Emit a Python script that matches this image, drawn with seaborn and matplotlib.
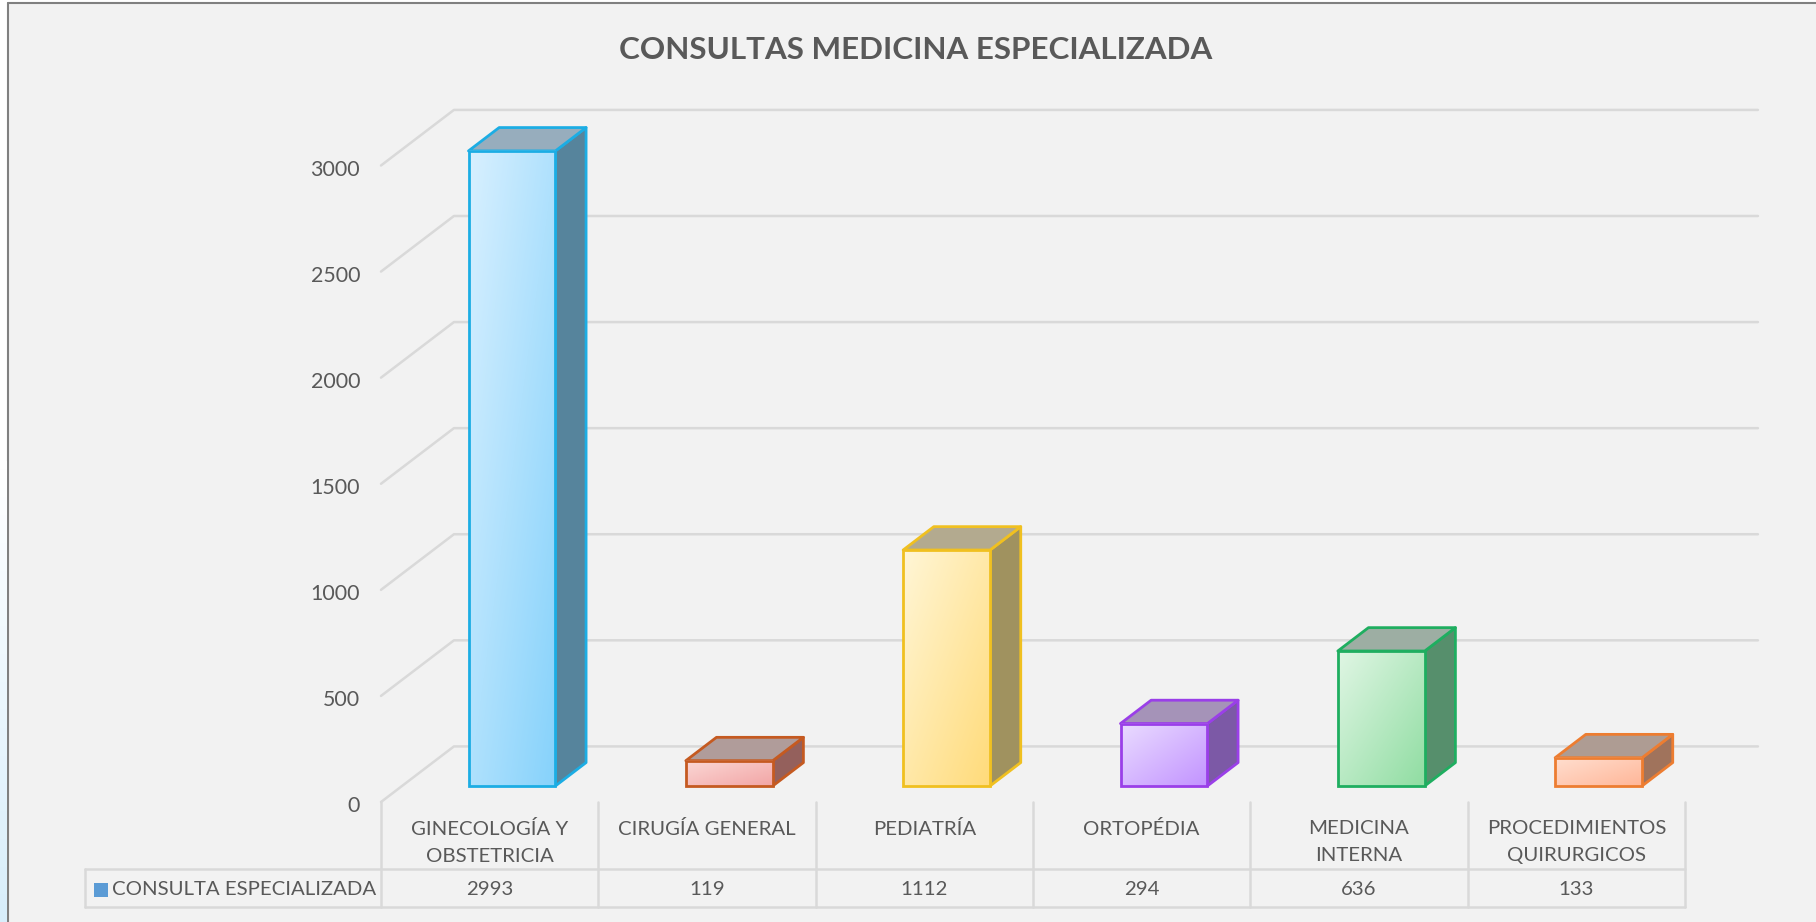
import numpy as np
import pandas as pd
import seaborn as sns
import matplotlib.pyplot as plt
from matplotlib.colors import LinearSegmentedColormap
from matplotlib.patches import Polygon, Rectangle
from matplotlib.transforms import Affine2D, ScaledTranslation

categories = ["GINECOLOGÍA Y\nOBSTETRICIA", "CIRUGÍA GENERAL", "PEDIATRÍA", "ORTOPÉDIA",
              "MEDICINA\nINTERNA", "PROCEDIMIENTOS\nQUIRURGICOS"]
values = [2993, 119, 1112, 294, 636, 133]
y_ticks = [0, 500, 1000, 1500, 2000, 2500, 3000]
series_name = "CONSULTA ESPECIALIZADA"
title = "CONSULTAS MEDICINA ESPECIALIZADA"

edge_colors = ["#1CADE4", "#C55A21", "#F0C020", "#9A3FE8", "#1FAE60", "#ED7D31"]
front_light = ["#D8F0FF", "#FBD8D6", "#FFF6D6", "#EADCFF", "#E0F6E4", "#FFDFD0"]
front_dark = ["#86D2FB", "#F2A5A5", "#FFDB7A", "#C293FF", "#90DDA2", "#FFB698"]
top_color = ["#97ADBD", "#B09C9A", "#B3AA8F", "#A593B8", "#9DAEA3", "#AE9C93"]
side_color = ["#56849C", "#94605C", "#A0925F", "#7C59A6", "#568F6C", "#A0735C"]

W, H = 1816, 922
BG = "#F2F2F2"
GRID = "#D9D9D9"
TEXT = "#595959"

sns.set_theme(style="white")
plt.rcParams["font.family"] = ["Lato", "DejaVu Sans"]

fig = plt.figure(figsize=(W / 100, H / 100), dpi=100, facecolor="white")

# background panel and the grey frame on top/left
fig.add_artist(Rectangle((8 / W, 0), 1, 1 - 4 / H, transform=fig.transFigure, facecolor=BG, edgecolor="none", zorder=-2))
fig.add_artist(plt.Line2D([7.5 / W, 7.5 / W], [0, 1 - 3 / H], color="#808080", lw=1.5, zorder=-1))
fig.add_artist(plt.Line2D([7.5 / W, 1], [1 - 3 / H, 1 - 3 / H], color="#808080", lw=1.5, zorder=-1))
# pale blue sliver left of the frame
strip = fig.add_axes([0, 0, 7 / W, 0.5])
strip.imshow(np.linspace(0, 1, 50)[:, None], cmap=LinearSegmentedColormap.from_list("s", ["#FFFFFF", "#D8EEFB"]),
             aspect="auto", origin="upper")
strip.axis("off")

# axes = front plane of the chart box
left, right = 381.0, 1685.0
bottom, top = 802.0, 165.5
ax = fig.add_axes([left / W, 1 - bottom / H, (right - left) / W, (bottom - top) / H])
ax.patch.set_alpha(0)

bar_w = 0.4
df = pd.DataFrame({"categoria": categories, "consultas": values})
sns.barplot(data=df, x="categoria", y="consultas", order=categories, width=bar_w, color="white",
            edgecolor="none", ax=ax, zorder=3)
ax.set_xlim(-0.5, 5.5)
ax.set_ylim(0, 3000)

# depth of the box, in data units
DX = 0.3356
DY = 262.0
BAR_D0 = 0.27
BAR_D1 = 0.69
BAR_SHIFT_X = 0.012
BAR_SHIFT_Y = 5.0

for s in ax.spines.values():
    s.set_visible(False)

# gridlines: back wall + left wall
for t in y_ticks:
    ax.plot([-0.5, -0.5 + DX, 5.5 + DX], [t, t + DY, t + DY], color=GRID, lw=1.8, clip_on=False, zorder=1)

grad = np.fromfunction(lambda r, c: (r + c) / 198.0, (100, 100))

for i, (p, v) in enumerate(zip(ax.patches, values)):
    x0 = i - bar_w / 2 + BAR_D0 * DX + BAR_SHIFT_X
    x1 = x0 + bar_w
    y0 = BAR_D0 * DY + BAR_SHIFT_Y
    y1 = y0 + v
    ddx = (BAR_D1 - BAR_D0) * DX
    ddy = (BAR_D1 - BAR_D0) * DY
    ec = edge_colors[i]
    # side and top faces
    ax.add_patch(Polygon([(x1, y0), (x1 + ddx, y0 + ddy), (x1 + ddx, y1 + ddy), (x1, y1)], closed=True,
                         facecolor=side_color[i], edgecolor=ec, lw=2.0, joinstyle="round", zorder=3, clip_on=False))
    ax.add_patch(Polygon([(x0, y1), (x0 + ddx, y1 + ddy), (x1 + ddx, y1 + ddy), (x1, y1)], closed=True,
                         facecolor=top_color[i], edgecolor=ec, lw=2.0, joinstyle="round", zorder=3, clip_on=False))
    # front face comes from seaborn, shifted into the box
    p.set_transform(Affine2D().translate(BAR_D0 * DX + BAR_SHIFT_X, y0) + ax.transData)
    p.set_facecolor("none")
    p.set_edgecolor(ec)
    p.set_linewidth(2.0)
    p.set_zorder(5)
    p.set_clip_on(False)
    cmap = LinearSegmentedColormap.from_list("f%d" % i, [front_light[i], front_dark[i]])
    im = ax.imshow(grad, cmap=cmap, extent=[x0, x1, y0, y1], aspect="auto", origin="upper", zorder=4, vmin=0, vmax=1)
    im.set_clip_on(False)

ax.set_xlim(-0.5, 5.5)
ax.set_ylim(0, 3000)

ax.set_xlabel("")
ax.set_ylabel("")
ax.set_yticks(y_ticks)
ax.set_yticklabels([str(t) for t in y_ticks], fontsize=15.4, color=TEXT)
ax.tick_params(axis="y", length=0, pad=15)
for lab in ax.get_yticklabels():
    lab.set_transform(lab.get_transform() + ScaledTranslation(0, -1.5 / 72, fig.dpi_scale_trans))
ax.set_xticks(range(len(categories)))
ax.set_xticklabels(categories, fontsize=14.7, color=TEXT, linespacing=1.72)
ax.tick_params(axis="x", length=0, pad=13)

# data table under the axis
ROW_TOP = -317.0
ROW_BOT = -497.0
TABLE_LEFT = -1.862
for e in np.arange(-0.5, 6.0):
    ax.plot([e, e], [0, ROW_BOT], color=GRID, lw=1.8, clip_on=False, zorder=1)
ax.plot([TABLE_LEFT, 5.5], [ROW_TOP, ROW_TOP], color=GRID, lw=1.8, clip_on=False, zorder=1)
ax.plot([TABLE_LEFT, 5.5], [ROW_BOT, ROW_BOT], color=GRID, lw=1.8, clip_on=False, zorder=1)
ax.plot([TABLE_LEFT, TABLE_LEFT], [ROW_TOP, ROW_BOT], color=GRID, lw=1.8, clip_on=False, zorder=1)
mid = (ROW_TOP + ROW_BOT) / 2 - 6
for i, v in enumerate(values):
    ax.text(i, mid, str(v), ha="center", va="center", fontsize=14.7, color=TEXT)
ax.add_patch(Rectangle((-1.82, mid - 33), 0.064, 66, facecolor="#5B9BD5", edgecolor="none", clip_on=False))
ax.text(-1.74, mid, series_name, ha="left", va="center", fontsize=14.7, color=TEXT)

fig.text(916 / W, 1 - 50 / H, title, ha="center", va="center", fontsize=22.6, fontweight="bold", color=TEXT)

fig.savefig("out.png", dpi=100)
